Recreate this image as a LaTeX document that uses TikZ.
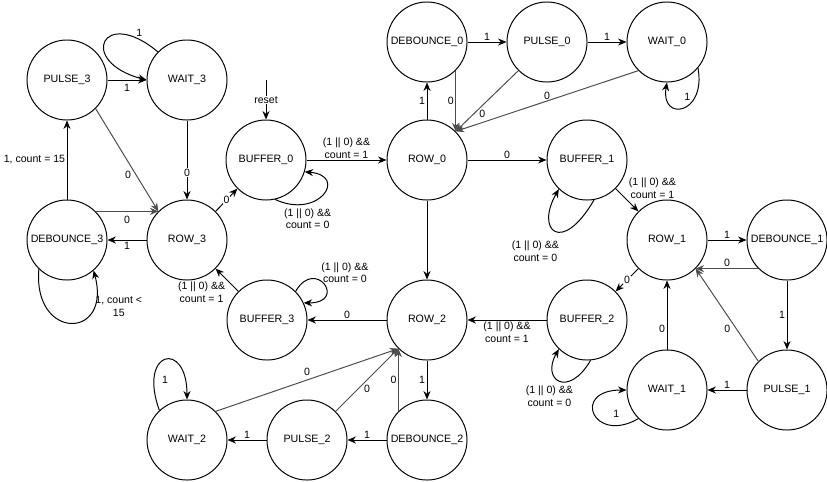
\documentclass[tikz,border=0pt]{standalone}
\usepackage{fontspec}
\setmainfont{Liberation Sans}
\usetikzlibrary{arrows.meta}
\tikzset{
  state/.style={circle, draw, line width=0.7pt, minimum size=2cm, inner sep=0pt,
    font=\fontsize{7.6}{9}\selectfont},
  trans/.style={-{Stealth[length=6pt,width=5pt]}, line width=0.7pt},
  back/.style={trans, draw=black!70},
  lbl/.style={font=\fontsize{7.5}{9}\selectfont, inner sep=1pt, align=center},
  onlbl/.style={lbl, fill=white, inner sep=0.5pt},
}

\begin{document}
\begin{tikzpicture}[x=0.025cm, y=-0.025cm]
\useasboundingbox (0,0) rectangle (827,481);

% states
\node[state] (PULSE3) at (67,80) {PULSE\_3};
\node[state] (WAIT3) at (187,80) {WAIT\_3};
\node[state] (DEB3) at (67,240) {DEBOUNCE\_3};
\node[state] (ROW3) at (187,240) {ROW\_3};
\node[state] (BUF0) at (266,160) {BUFFER\_0};
\node[state] (ROW0) at (427,160) {ROW\_0};
\node[state] (DEB0) at (427,42) {DEBOUNCE\_0};
\node[state] (PULSE0) at (547,42) {PULSE\_0};
\node[state] (WAIT0) at (667,42) {WAIT\_0};
\node[state] (BUF1) at (587,160) {BUFFER\_1};
\node[state] (ROW1) at (667,240) {ROW\_1};
\node[state] (DEB1) at (787,240) {DEBOUNCE\_1};
\node[state] (PULSE1) at (787,390) {PULSE\_1};
\node[state] (WAIT1) at (667,390) {WAIT\_1};
\node[state] (BUF2) at (587,320) {BUFFER\_2};
\node[state] (ROW2) at (427,320) {ROW\_2};
\node[state] (BUF3) at (267,320) {BUFFER\_3};
\node[state] (DEB2) at (427,440) {DEBOUNCE\_2};
\node[state] (PULSE2) at (307,440) {PULSE\_2};
\node[state] (WAIT2) at (187,440) {WAIT\_2};
\coordinate (reset) at (266,80);

% buffers and rows
\draw[trans] (reset) -- node[onlbl] {reset} (BUF0);
\draw[trans] (BUF0) -- node[lbl, above] {(1 || 0) \&\&\\count = 1} (ROW0);
\draw[trans] (BUF0.-77) .. controls +(-25:1.2cm) and +(-5:1.1cm) .. (BUF0.-17)
  node[lbl, pos=0.35, below=3.5pt, xshift=-4pt] {(1 || 0) \&\&\\count = 0};
\draw[trans] (ROW0) -- node[lbl, above] {0} (BUF1);
\draw[trans] (BUF1.-45) -- node[lbl, above right] {(1 || 0) \&\&\\count = 1} (ROW1.135);
\draw[trans] (BUF1.-80) .. controls +(-120:1.6cm) and +(-120:1.2cm) .. (BUF1.-134)
  node[lbl, pos=0.45, below left, yshift=-5pt, xshift=2pt] {(1 || 0) \&\&\\count = 0};
\draw[trans] (ROW1.-135) -- node[onlbl] {0} (BUF2.45);
\draw[trans] (BUF2) -- node[lbl, below] {(1 || 0) \&\&\\count = 1} (ROW2);
\draw[trans] (BUF2.-85) .. controls +(-120:1.1cm) and +(-120:0.9cm) .. (BUF2.-134)
  node[lbl, pos=0.45, below, xshift=-9pt, yshift=-2pt] {(1 || 0) \&\&\\count = 0};
\draw[trans] (ROW0) -- (ROW2);
\draw[trans] (ROW2) -- node[lbl, above] {0} (BUF3);
\draw[trans] (BUF3.135) -- node[lbl, below left] {(1 || 0) \&\&\\count = 1} (ROW3.-45);
\draw[trans] (BUF3.45) .. controls +(60:1cm) and +(0:1.1cm) .. (BUF3.25)
  node[lbl, pos=0.5, right=-3pt, yshift=8pt] {(1 || 0) \&\&\\count = 0};
\draw[trans] (ROW3.45) -- node[onlbl] {0} (BUF0.-135);

% row 0
\draw[trans] (ROW0) -- node[lbl, left] {1} (DEB0);
\draw[back] (DEB0.-45) -- node[lbl, left=0pt] {0} (ROW0.45);
\draw[trans] (DEB0) -- node[lbl, above] {1} (PULSE0);
\draw[trans] (PULSE0) -- node[lbl, above] {1} (WAIT0);
\draw[back] (PULSE0.-135) -- node[lbl, pos=0.72, right=3pt] {0} (ROW0.45);
\draw[back] (WAIT0.-135) -- node[lbl, above] {0} (ROW0.45);
\draw[trans] (WAIT0.-40) .. controls +(-80:1.2cm) and +(-100:1cm) .. (WAIT0.-90)
  node[lbl, pos=0.5, above=4pt, xshift=3pt] {1};

% row 1
\draw[trans] (ROW1) -- node[lbl, above] {1} (DEB1);
\draw[back] (DEB1.-135) -- node[lbl, above] {0} (ROW1.-45);
\draw[trans] (DEB1) -- node[lbl, left] {1} (PULSE1);
\draw[trans] (PULSE1) -- node[lbl, above] {1} (WAIT1);
\draw[back] (PULSE1.135) -- node[lbl, pos=0.35, left=3pt] {0} (ROW1.-45);
\draw[trans] (WAIT1) -- node[lbl, pos=0.3, left] {0} (ROW1);
\draw[trans] (WAIT1.-135) .. controls +(-150:1.3cm) and +(180:1.4cm) .. (WAIT1.180)
  node[lbl, pos=0.5, right=12pt] {1};

% row 2
\draw[trans] (ROW2) -- node[lbl, left=0pt] {1} (DEB2);
\draw[back] (DEB2.135) -- node[lbl, left=0pt] {0} (ROW2.-135);
\draw[trans] (DEB2) -- node[lbl, above] {1} (PULSE2);
\draw[trans] (PULSE2) -- node[lbl, above] {1} (WAIT2);
\draw[back] (PULSE2.45) -- node[lbl, below=2pt] {0} (ROW2.-135);
\draw[back] (WAIT2.45) -- node[lbl, above=2pt] {0} (ROW2.-135);
\draw[trans] (WAIT2.133) .. controls +(110:1.6cm) and +(90:1.5cm) .. (WAIT2.90)
  node[lbl, pos=0.5, below=10pt] {1};

% row 3
\draw[trans] (ROW3) -- node[lbl, below] {1} (DEB3);
\draw[back] (DEB3.45) -- node[lbl, below=2pt] {0} (ROW3.135);
\draw[trans] (DEB3) -- node[lbl, pos=0.5, left=0pt] {1, count = 15} (PULSE3);
\draw[trans] (DEB3.-134) .. controls +(-95:1.8cm) and +(-75:1.8cm) .. (DEB3.-49)
  node[lbl, pos=0.78, right=0pt] {1, count <\\15};
\draw[trans] (PULSE3) -- node[lbl, below=2pt] {1} (WAIT3);
\draw[trans] (WAIT3.136) .. controls +(140:1.8cm) and +(165:1.8cm) .. (WAIT3.180)
  node[lbl, pos=0.12, above=1pt] {1};
\draw[trans] (WAIT3) -- node[onlbl, pos=0.66] {0} (ROW3);
\draw[back] (PULSE3.-45) -- node[lbl, pos=0.64, left=2pt] {0} (ROW3.135);

\end{tikzpicture}
\end{document}
